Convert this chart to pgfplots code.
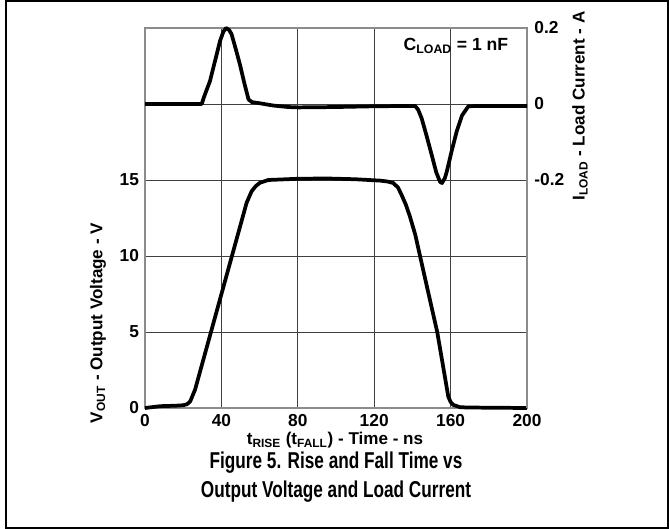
\documentclass[border=0pt]{standalone}
\usepackage{fontspec}
\setmainfont{Liberation Sans}
\newfontfamily\capfont[FakeStretch=0.75]{Liberation Sans}
\usepackage{pgfplots}
\pgfplotsset{compat=1.18}

\pgfplotstableread{
t V
0 0
8 0.12
16 0.15
20 0.18
22 0.25
23.6 0.42
26.2 1.2
53.2 13.5
55.8 14.25
58 14.6
60.2 14.82
64.6 15.0
80 15.08
95 15.1
110 15.05
123 14.96
127 14.9
130 14.8
132.5 14.5
134.4 14.0
136.5 13.4
138.7 12.6
141.5 11.4
144 10
148.3 7.6
153 5.0
157 2.06
158.8 0.74
160 0.4
161.4 0.2
165 0.05
170 0.03
200 0
}\vout

\pgfplotstableread{
t I
0 0
29.7 0
31 0.02
34 0.06
37 0.12
39.3 0.166
41 0.19
42.4 0.2
44 0.195
45.3 0.184
47.5 0.145
49.7 0.104
52 0.055
54.2 0.012
56 0.005
60 0.002
67 -0.004
75 -0.008
80 -0.009
100 -0.008
120 -0.006
141.4 -0.005
143 -0.015
144.8 -0.037
147.5 -0.085
150.1 -0.134
152.5 -0.18
154.5 -0.205
155.5 -0.208
157 -0.195
158 -0.178
160.5 -0.125
163.2 -0.072
166 -0.03
169.3 -0.006
175 -0.005
200 -0.005
}\iload

\begin{document}
\begin{tikzpicture}[x=0.75pt,y=0.75pt]
\path[use as bounding box] (0,0) rectangle (669,529);
\draw[line width=1.1pt] (6,1) rectangle (668,528);

\begin{axis}[
  at={(108.75pt,90.75pt)}, anchor=south west,
  scale only axis, width=286.5pt, height=285pt,
  xmin=0, xmax=200, ymin=0, ymax=25,
  xtick={0,40,...,200}, xticklabels={0,40,80,120,160,200},
  ytick={0,5,...,25}, yticklabels={0,5,10,15,,},
  grid=major, major grid style={black!75, line width=0.6pt},
  axis line style={black!45, line width=0.9pt},
  major tick length=0pt,
  tick label style={font=\bfseries\fontsize{13}{15}\selectfont},
  xticklabel style={yshift=-1.5pt},
  yticklabel style={xshift=-1pt},
  clip=false,
]
\addplot[black, line width=2.8pt, line join=round] table[x=t, y=V] {\vout};
\end{axis}

\begin{axis}[
  at={(108.75pt,90.75pt)}, anchor=south west,
  scale only axis, width=286.5pt, height=285pt,
  xmin=0, xmax=200, ymin=-0.8, ymax=0.2,
  axis x line=none, axis y line*=right,
  ytick={-0.2,0,0.2}, yticklabels={-0.2,0,0.2},
  axis line style={black!45, line width=0.9pt},
  major tick length=0pt,
  tick label style={font=\bfseries\fontsize{13}{15}\selectfont},
  yticklabel style={xshift=2pt},
  clip=false,
]
\addplot[black, line width=2.8pt, line join=round] table[x=t, y=I] {\iload};
\end{axis}

\node[font=\bfseries\fontsize{13.2}{15}\selectfont] at (456,483)
  {C\textsubscript{LOAD} = 1 nF};
\node[font=\bfseries\fontsize{12.8}{15}\selectfont, rotate=90] at (98,206)
  {V\textsubscript{OUT} - Output Voltage - V};
\node[font=\bfseries\fontsize{12.8}{15}\selectfont, rotate=90] at (580,423)
  {I\textsubscript{LOAD} - Load Current - A};
\node[font=\bfseries\fontsize{12.8}{15}\selectfont, inner sep=0.5pt] at (335,88.5)
  {t\textsubscript{RISE} (t\textsubscript{FALL}) - Time - ns};
\node[font=\capfont\bfseries\fontsize{17.2}{21.75}\selectfont, align=center, inner sep=0.5pt] at (336,52)
  {Figure 5. Rise and Fall Time vs\\Output Voltage and Load Current};
\end{tikzpicture}
\end{document}
